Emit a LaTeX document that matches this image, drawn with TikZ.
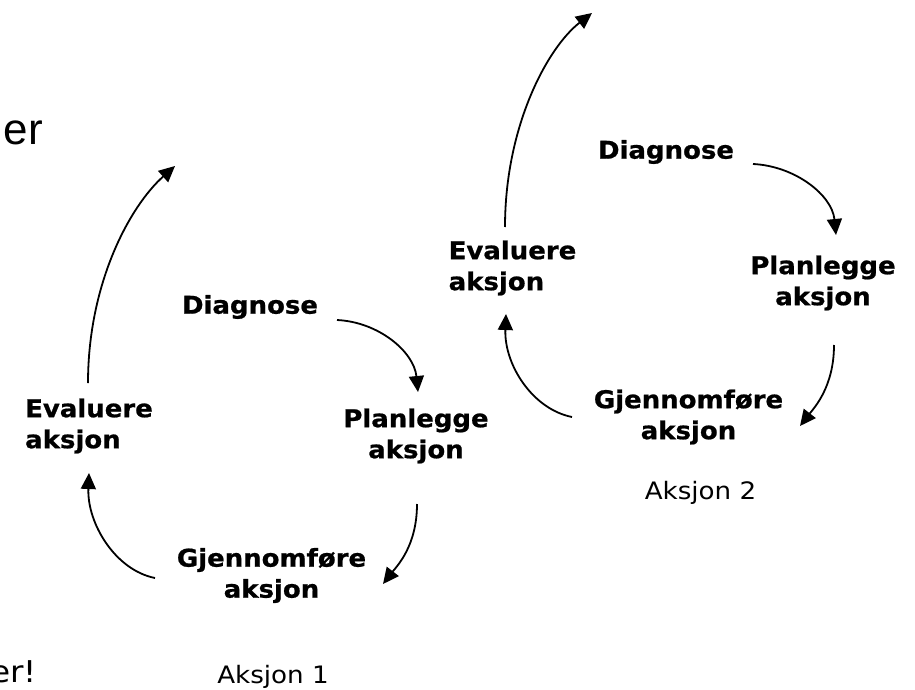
\documentclass[tikz,border=0pt]{standalone}
\usepackage{fontspec}
\usetikzlibrary{arrows.meta,calc}
\newfontfamily\lblfont[FakeStretch=1.06,BoldFeatures={FakeBold=0.8}]{DejaVu Sans}
\newfontfamily\capfont[FakeStretch=1.09]{DejaVu Sans}
\newfontfamily\erfont{Liberation Sans}
\begin{document}
\begin{tikzpicture}[x=1pt,y=-1pt,
  lbl/.style={inner sep=0pt, font=\lblfont\bfseries\fontsize{24.5}{31}\selectfont, align=center},
  capt/.style={inner sep=0pt, font=\capfont\fontsize{24}{28}\selectfont},
  arr/.style={line width=1.8pt, -{Triangle[length=16pt,width=15pt]}}]
\useasboundingbox (0,0) rectangle (915,690);

% partial texts at the left edge
\node[anchor=base east, inner sep=0pt, font=\erfont\fontsize{44}{50}\selectfont] (er1) at (43,145) {er};
\node[anchor=base east, inner sep=0pt, font=\capfont\fontsize{30}{34}\selectfont] (er2) at (37,682) {er!};

% cycle 1
\node[lbl] (D1) at (250,307) {Diagnose};
\node[lbl,align=left] (E1) at (89,426) {Evaluere\\aksjon};
\node[lbl] (P1) at (416,436) {Planlegge\\aksjon};
\node[lbl] (G1) at (271.5,575.5) {Gjennomføre\\aksjon};
\node[capt] (A1) at (273,677) {Aksjon 1};
\coordinate (o1) at (175,166);

% cycle 2
\node[lbl] (D2) at (666,152) {Diagnose};
\node[lbl,align=left] (E2) at (512.5,268) {Evaluere\\aksjon};
\node[lbl] (P2) at (823,283) {Planlegge\\aksjon};
\node[lbl] (G2) at (688.5,417) {Gjennomføre\\aksjon};
\node[capt] (A2) at (700.5,493) {Aksjon 2};
\coordinate (o2) at (592,13);

% arrows cycle 1
\draw[arr] ($(D1)+(87,13)$) .. controls ($(D1)+(129,15)$) and ($(P1)+(-2,-84)$) .. ($(P1)+(2,-44)$);
\draw[arr] ($(P1)+(1,68)$) .. controls ($(P1)+(1,110)$) and ($(G1)+(125.5,-9.5)$) .. ($(G1)+(111.5,8.5)$);
\draw[arr] ($(G1)+(-116.5,2.5)$) .. controls ($(G1)+(-156.5,-5.5)$) and ($(E1)+(-2,97)$) .. ($(E1)+(0,47)$);
\draw[arr] ($(E1)+(-1,-43)$) .. controls ($(E1)+(-1,-143)$) and ($(o1)+(-45,40)$) .. (o1);

% arrows cycle 2
\draw[arr] ($(D2)+(87,12)$) .. controls ($(D2)+(129,14)$) and ($(P2)+(9,-88)$) .. ($(P2)+(13,-48)$);
\draw[arr] ($(P2)+(11,62)$) .. controls ($(P2)+(11,104)$) and ($(G2)+(125.5,-9)$) .. ($(G2)+(111.5,9)$);
\draw[arr] ($(G2)+(-116.5,0)$) .. controls ($(G2)+(-156.5,-8)$) and ($(E2)+(-8.5,96)$) .. ($(E2)+(-6.5,46)$);
\draw[arr] ($(E2)+(-7.5,-41)$) .. controls ($(E2)+(-7.5,-141)$) and ($(o2)+(-45,35)$) .. (o2);
\end{tikzpicture}
\end{document}
